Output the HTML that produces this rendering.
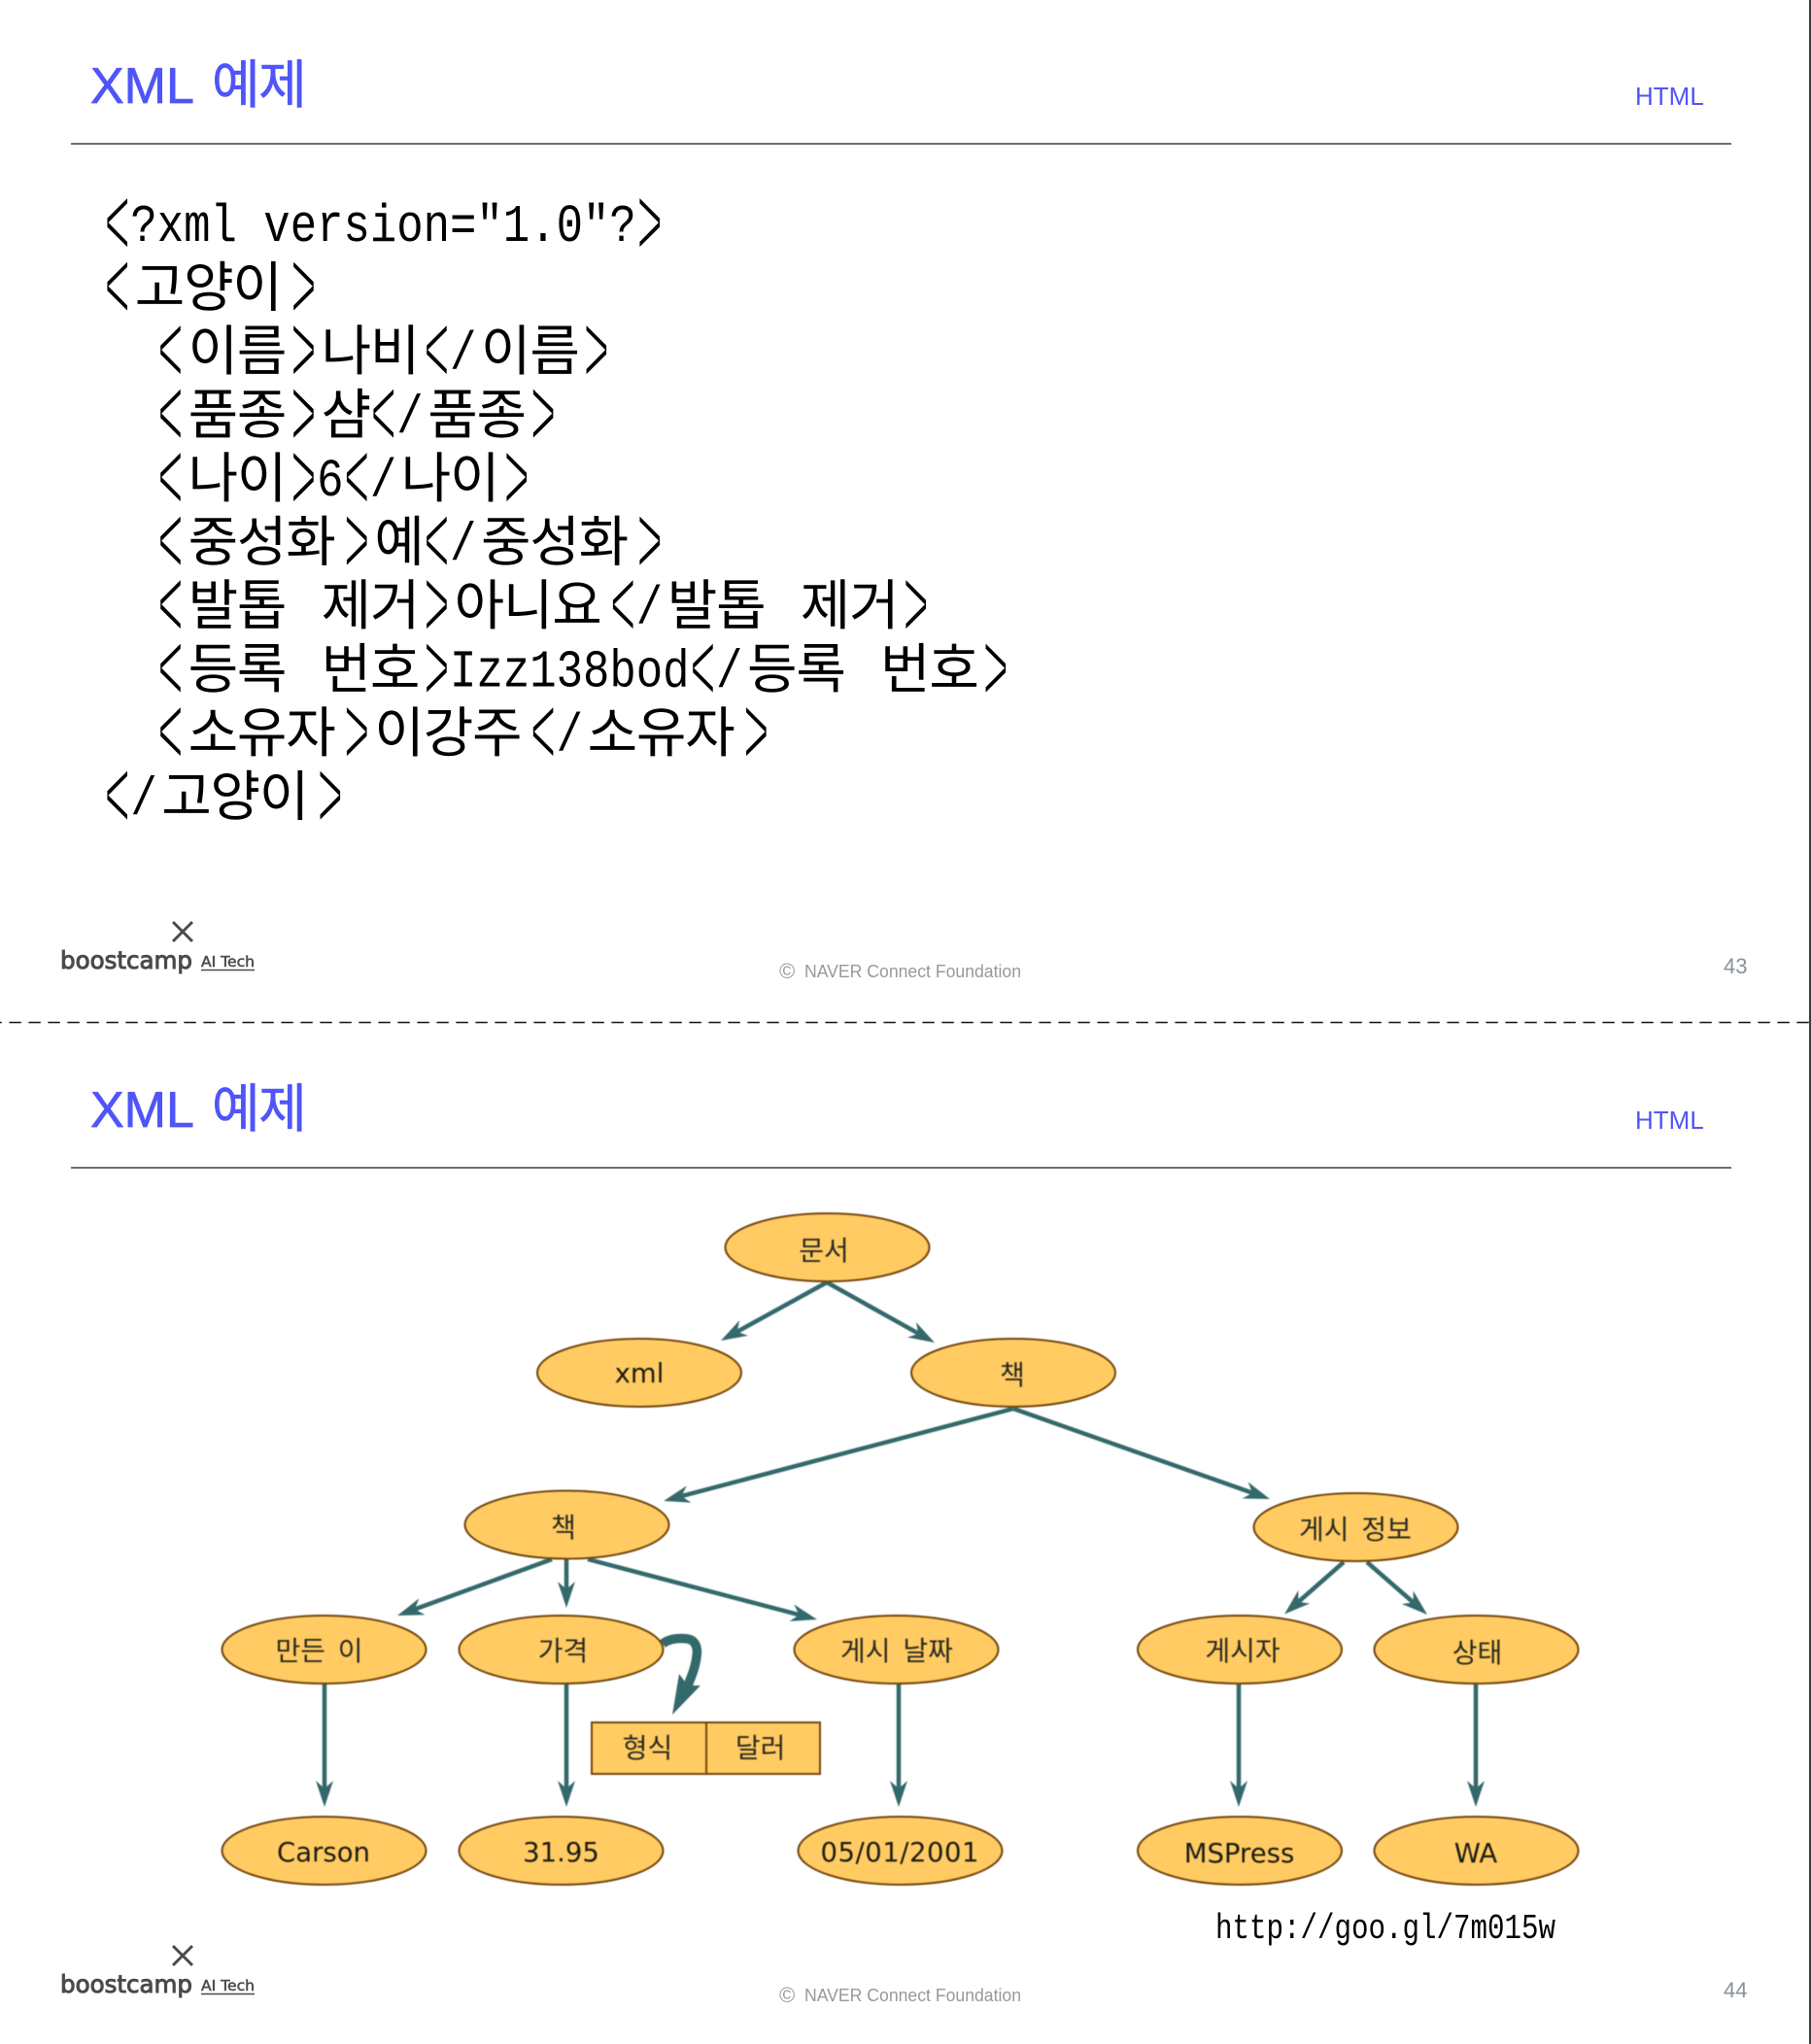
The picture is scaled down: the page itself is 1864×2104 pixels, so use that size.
<!DOCTYPE html>
<html lang="ko">
<head>
<meta charset="utf-8">
<title>XML 예제</title>
<style>
html,body{margin:0;padding:0;background:#fff;width:1864px;height:2104px;overflow:hidden}
svg{display:block}
.title{font-family:"Liberation Sans","Noto Sans CJK KR",sans-serif;font-size:52px;fill:#4f55f8;stroke:#4f55f8;stroke-width:.7}
.titleh{font-family:"Noto Sans CJK KR",sans-serif;font-size:54px;fill:#4f55f8;letter-spacing:-1.5px;stroke:#4f55f8;stroke-width:.5}
.sec{font-family:"Liberation Sans",sans-serif;font-size:26px;fill:#4f55f8}
.foot{font-family:"Liberation Sans",sans-serif;font-size:18.5px;fill:#999}
.copy{font-family:"Liberation Sans",sans-serif;font-size:22px;fill:#999}
.num{font-family:"Liberation Sans",sans-serif;font-size:22px;fill:#8a9099}
.bc{font-family:"DejaVu Sans",sans-serif;font-size:25px;fill:#4a4a4a;stroke:#4a4a4a;stroke-width:1}
.ai{font-family:"DejaVu Sans",sans-serif;font-size:15px;fill:#4a4a4a;stroke:#4a4a4a;stroke-width:.5}
.h{font-family:"Noto Sans CJK KR",sans-serif;font-size:56px;letter-spacing:-1.2px;fill:#000}
.l{font-family:"Liberation Mono",monospace;font-size:55px;fill:#000}
.c{font-family:"Liberation Mono",monospace;font-size:106px;fill:#000;text-anchor:middle;stroke:#fff;stroke-width:2.5}
.k{font-family:"Noto Sans CJK KR",sans-serif;font-size:28px;fill:#2a2a20;text-anchor:middle;word-spacing:5px}
.e{font-family:"DejaVu Sans",sans-serif;font-size:27.5px;fill:#1c1c14;text-anchor:middle}
.n{fill:#ffcb62;stroke:#74470f;stroke-width:2}
.a{stroke:#34696c;stroke-width:4.5;fill:none;marker-end:url(#ah)}
</style>
</head>
<body>
<svg width="1864" height="2104" viewBox="0 0 1864 2104" xmlns="http://www.w3.org/2000/svg">
<defs>
<marker id="ah" markerUnits="userSpaceOnUse" markerWidth="27" markerHeight="18" refX="8" refY="9" orient="auto">
<path d="M27,9 L0,0 L8,9 L0,18 Z" fill="#34696c"/>
</marker>
</defs>

<rect x="1862" y="0" width="2" height="2104" fill="#3a3a3a"/>

<!-- Slide 43 -->
<text class="title" x="93" y="106">XML</text>
<text class="titleh" x="218" y="106">예제</text>
<text class="sec" x="1683" y="108">HTML</text>
<line x1="73" y1="148" x2="1782" y2="148" stroke="#3a3f4a" stroke-width="1.5"/>

<g transform="scale(.42,1) translate(0,2)">
<text class="c" y="262" x="287.4 1592.1">&lt;&gt;</text>
<text class="c" y="327.5" x="287.4 744">&lt;&gt;</text>
<text class="c" y="393" x="417.9 744 1070.2 1461.7">&lt;&gt;&lt;&gt;</text>
<text class="c" y="458.5" x="417.9 744 939.8 1331.2">&lt;&gt;&lt;&gt;</text>
<text class="c" y="524" x="417.9 744 874.5 1266">&lt;&gt;&lt;&gt;</text>
<text class="c" y="589.5" x="417.9 874.5 1070.2 1592.1">&lt;&gt;&lt;&gt;</text>
<text class="c" y="655" x="417.9 1070.2 1526.9 2244.5">&lt;&gt;&lt;&gt;</text>
<text class="c" y="720.5" x="417.9 1070.2 1722.6 2440.2">&lt;&gt;&lt;&gt;</text>
<text class="c" y="786" x="417.9 874.5 1331.2 1853.1">&lt;&gt;&lt;&gt;</text>
<text class="c" y="851.5" x="287.4 809.3">&lt;&gt;</text>
</g>

<g transform="scale(.83,1)">
<text class="l" x="161.9" y="248">?xml version="1.0"?</text>
<text class="l" x="557.9" y="379">/</text>
<text class="l" x="491.9" y="444.5">/</text>
<text class="l" x="392.9" y="510">6</text>
<text class="l" x="458.9" y="510">/</text>
<text class="l" x="557.9" y="575.5">/</text>
<text class="l" x="788.9" y="641">/</text>
<text class="l" x="557.9" y="706.5">Izz138bod</text>
<text class="l" x="887.9" y="706.5">/</text>
<text class="l" x="689.9" y="772">/</text>
<text class="l" x="161.9" y="837.5">/</text>
</g>

<g transform="translate(5,2)">
<text class="h" x="133.8" y="313.5">고양이</text>
<text class="h" x="188.6" y="379">이름</text>
<text class="h" x="325.6" y="379">나비</text>
<text class="h" x="490" y="379">이름</text>
<text class="h" x="188.6" y="444.5">품종</text>
<text class="h" x="325.6" y="444.5">샴</text>
<text class="h" x="435.2" y="444.5">품종</text>
<text class="h" x="188.6" y="510">나이</text>
<text class="h" x="407.8" y="510">나이</text>
<text class="h" x="188.6" y="575.5">중성화</text>
<text class="h" x="380.4" y="575.5">예</text>
<text class="h" x="490" y="575.5">중성화</text>
<text class="h" x="188.6" y="641">발톱</text>
<text class="h" x="325.6" y="641">제거</text>
<text class="h" x="462.6" y="641">아니요</text>
<text class="h" x="681.8" y="641">발톱</text>
<text class="h" x="818.8" y="641">제거</text>
<text class="h" x="188.6" y="706.5">등록</text>
<text class="h" x="325.6" y="706.5">번호</text>
<text class="h" x="764" y="706.5">등록</text>
<text class="h" x="901" y="706.5">번호</text>
<text class="h" x="188.6" y="772">소유자</text>
<text class="h" x="380.4" y="772">이강주</text>
<text class="h" x="599.6" y="772">소유자</text>
<text class="h" x="161.2" y="837.5">고양이</text>
</g>

<path d="M178,949 L198,969 M198,949 L178,969" stroke="#4a4a4a" stroke-width="3" fill="none"/>
<text class="bc" x="62" y="997" textLength="136" lengthAdjust="spacingAndGlyphs">boostcamp</text>
<text class="ai" x="207" y="995" textLength="55" lengthAdjust="spacingAndGlyphs">AI Tech</text>
<line x1="207" y1="998.5" x2="262" y2="998.5" stroke="#4a4a4a" stroke-width="1.5"/>
<text class="copy" x="802" y="1007">©</text>
<text class="foot" x="828" y="1006" textLength="223" lengthAdjust="spacingAndGlyphs">NAVER Connect Foundation</text>
<text class="num" x="1774" y="1002">43</text>

<line x1="-10.6" y1="1052.5" x2="1862" y2="1052.5" stroke="#111" stroke-width="1.5" stroke-dasharray="12.4 7.6"/>

<!-- Slide 44 -->
<text class="title" x="93" y="1160">XML</text>
<text class="titleh" x="218" y="1160">예제</text>
<text class="sec" x="1683" y="1162">HTML</text>
<line x1="73" y1="1202" x2="1782" y2="1202" stroke="#3a3f4a" stroke-width="1.5"/>

<g style="filter:blur(.5px)">
<line class="a" x1="851" y1="1320" x2="758.6" y2="1370.8"/>
<line class="a" x1="851" y1="1320" x2="945.4" y2="1372.7"/>
<line class="a" x1="1043" y1="1450" x2="701.4" y2="1540.1"/>
<line class="a" x1="1043" y1="1450" x2="1289.1" y2="1536.7"/>
<line class="a" x1="568" y1="1605" x2="426.9" y2="1656.5"/>
<line class="a" x1="583" y1="1605" x2="583" y2="1636"/>
<line class="a" x1="605" y1="1605" x2="822.6" y2="1662.2"/>
<line class="a" x1="1383" y1="1608" x2="1336.3" y2="1649"/>
<line class="a" x1="1407" y1="1608" x2="1454.7" y2="1649.5"/>
<line class="a" x1="334" y1="1733" x2="334" y2="1841"/>
<line class="a" x1="583" y1="1733" x2="583" y2="1841"/>
<line class="a" x1="925" y1="1733" x2="925" y2="1841"/>
<line class="a" x1="1275" y1="1733" x2="1275" y2="1841"/>
<line class="a" x1="1519" y1="1733" x2="1519" y2="1841"/>

<path d="M682,1692 C690,1686 700,1686 708,1687 C718,1689 718,1700 717,1705 C716,1715 712,1725 708,1735" fill="none" stroke="#34696c" stroke-width="9.5"/>
<polygon points="692,1765 699,1723 708,1735 721,1735" fill="#34696c"/>

<ellipse class="n" cx="851.5" cy="1284" rx="105" ry="35"/>
<ellipse class="n" cx="658" cy="1413" rx="105" ry="35"/>
<ellipse class="n" cx="1043" cy="1413" rx="105" ry="35"/>
<ellipse class="n" cx="583.5" cy="1569.5" rx="105" ry="35"/>
<ellipse class="n" cx="1395.5" cy="1572" rx="105" ry="35"/>
<ellipse class="n" cx="333.5" cy="1698" rx="105" ry="35"/>
<ellipse class="n" cx="577.5" cy="1698" rx="105" ry="35"/>
<ellipse class="n" cx="922.5" cy="1698" rx="105" ry="35"/>
<ellipse class="n" cx="1276" cy="1698" rx="105" ry="35"/>
<ellipse class="n" cx="1519.5" cy="1698" rx="105" ry="35"/>
<ellipse class="n" cx="333.5" cy="1905" rx="105" ry="35"/>
<ellipse class="n" cx="577.5" cy="1905" rx="105" ry="35"/>
<ellipse class="n" cx="926.5" cy="1905" rx="105" ry="35"/>
<ellipse class="n" cx="1276" cy="1905" rx="105" ry="35"/>
<ellipse class="n" cx="1519.5" cy="1905" rx="105" ry="35"/>

<rect class="n" x="609" y="1773" width="118" height="53"/>
<rect class="n" x="727" y="1773" width="117" height="53"/>

<text class="k" x="848" y="1297">문서</text>
<text class="e" x="658" y="1423">xml</text>
<text class="k" x="1042" y="1425">책</text>
<text class="k" x="580" y="1582">책</text>
<text class="k" x="1395" y="1584">게시 정보</text>
<text class="k" x="328.5" y="1709">만든 이</text>
<text class="k" x="579.5" y="1709">가격</text>
<text class="k" x="923" y="1709">게시 날짜</text>
<text class="k" x="1279" y="1709">게시자</text>
<text class="k" x="1520.5" y="1711">상태</text>
<text class="k" x="666.5" y="1809">형식</text>
<text class="k" x="782.6" y="1809">달러</text>
<text class="e" x="333" y="1916">Carson</text>
<text class="e" x="577.5" y="1916">31.95</text>
<text class="e" x="926" y="1916" textLength="163">05/01/2001</text>
<text class="e" x="1275.5" y="1917">MSPress</text>
<text class="e" x="1519" y="1917">WA</text>
</g>

<text x="1251" y="1995" font-family="Liberation Mono, monospace" font-size="36" fill="#000" textLength="350" lengthAdjust="spacingAndGlyphs">http://goo.gl/7m015w</text>

<path d="M178,2003 L198,2023 M198,2003 L178,2023" stroke="#4a4a4a" stroke-width="3" fill="none"/>
<text class="bc" x="62" y="2051" textLength="136" lengthAdjust="spacingAndGlyphs">boostcamp</text>
<text class="ai" x="207" y="2049" textLength="55" lengthAdjust="spacingAndGlyphs">AI Tech</text>
<line x1="207" y1="2052.5" x2="262" y2="2052.5" stroke="#4a4a4a" stroke-width="1.5"/>
<text class="copy" x="802" y="2061">©</text>
<text class="foot" x="828" y="2060" textLength="223" lengthAdjust="spacingAndGlyphs">NAVER Connect Foundation</text>
<text class="num" x="1774" y="2056">44</text>
</svg>
</body>
</html>
